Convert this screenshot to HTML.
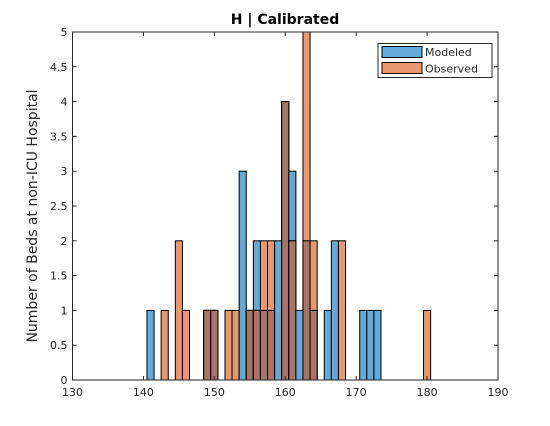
<!DOCTYPE html>
<html><head><meta charset="utf-8"><style>
body{margin:0;background:#fff;}
svg{display:block;font-family:"DejaVu Sans","Liberation Sans",sans-serif;}
</style></head><body>
<svg id="chart" width="550" height="426">
<rect width="550" height="426" fill="#fff"/>
<g id="bars"></g>
<g id="axes"></g>
<text x="285" y="24" text-anchor="middle" font-size="14" font-weight="bold" fill="#000">H | Calibrated</text>
<text transform="translate(37,216) rotate(-90)" text-anchor="middle" font-size="14" fill="#262626">Number of Beds at non-ICU Hospital</text>
<g>
<rect x="378" y="43.5" width="114" height="34" fill="#fff" stroke="#262626" stroke-width="1"/>
<g>
<rect x="382" y="46.5" width="40" height="11" fill="#64aad9" stroke="#000"/>
<text x="425" y="56" font-size="11" fill="#262626">Modeled</text></g>
<g>
<rect x="382" y="62.5" width="40" height="11" fill="#e8986f" stroke="#000"/>
<text x="425" y="72.5" font-size="11" fill="#262626">Observed</text></g>
</g>
</svg>
<script>
const bins=[141,143,145,146,149,150,152,153,154,155,156,157,158,159,160,161,162,163,164,166,167,168,171,172,173,180];
const modeled=[1,0,0,0,1,1,0,0,3,1,2,1,1,2,4,3,1,2,1,1,2,0,1,1,1,0];
const observed=[0,1,2,1,1,1,1,1,0,1,1,2,2,0,4,2,0,5,2,0,0,2,0,0,0,1];
const xTicks=[130,140,150,160,170,180,190];
const yTicks=[0,0.5,1,1.5,2,2.5,3,3.5,4,4.5,5];
const L=72.5,R=498,T=32,B=380;
const xs=v=>L+(v-130)*(R-L)/60;
const ys=v=>B-v*(B-T)/5;
const NS="http://www.w3.org/2000/svg";
const bars=document.getElementById('bars'),axes=document.getElementById('axes');
function rect(g,x0,x1,v,fill,name){
 const r=document.createElementNS(NS,'rect');
 r.setAttribute('x',xs(x0));r.setAttribute('width',xs(x1)-xs(x0));
 r.setAttribute('y',ys(v));r.setAttribute('height',ys(0)-ys(v));
 r.setAttribute('fill',fill);r.setAttribute('stroke','#000');r.setAttribute('stroke-width','1');
 
 
 g.appendChild(r);
}
bins.forEach((b,i)=>{
 const m=modeled[i],o=observed[i],x0=b-0.5,x1=b+0.5;
 if(m>0)rect(bars,x0,x1,m,'#64aad9','bar-modeled-'+b);
 if(o>0)rect(bars,x0,x1,o,'#e8986f','bar-observed-'+b);
 const mn=Math.min(m,o);
 if(mn>0)rect(bars,x0,x1,mn,'#a97565','bar-overlap-'+b);
});
function line(x1,y1,x2,y2){const l=document.createElementNS(NS,'line');
 l.setAttribute('x1',x1);l.setAttribute('y1',y1);l.setAttribute('x2',x2);l.setAttribute('y2',y2);
 l.setAttribute('stroke','#262626');l.setAttribute('stroke-width','1');axes.appendChild(l);}
const box=document.createElementNS(NS,'rect');
box.setAttribute('x',L);box.setAttribute('y',T);box.setAttribute('width',R-L);box.setAttribute('height',B-T);
box.setAttribute('fill','none');box.setAttribute('stroke','#262626');


axes.appendChild(box);
xTicks.forEach(t=>{const x=xs(t);line(x,B,x,B-4);line(x,T,x,T+4);
 const tx=document.createElementNS(NS,'text');tx.setAttribute('x',x);tx.setAttribute('y',B+16);
 tx.setAttribute('text-anchor','middle');tx.setAttribute('font-size','11');tx.setAttribute('fill','#262626');
 
 
 tx.textContent=t;axes.appendChild(tx);});
yTicks.forEach(t=>{const y=ys(t);line(L,y,L+4,y);line(R,y,R-4,y);
 const tx=document.createElementNS(NS,'text');tx.setAttribute('x',L-5);tx.setAttribute('y',y+4);
 tx.setAttribute('text-anchor','end');tx.setAttribute('font-size','11');tx.setAttribute('fill','#262626');
 
 
 tx.textContent=t;axes.appendChild(tx);});
</script>
</body></html>
